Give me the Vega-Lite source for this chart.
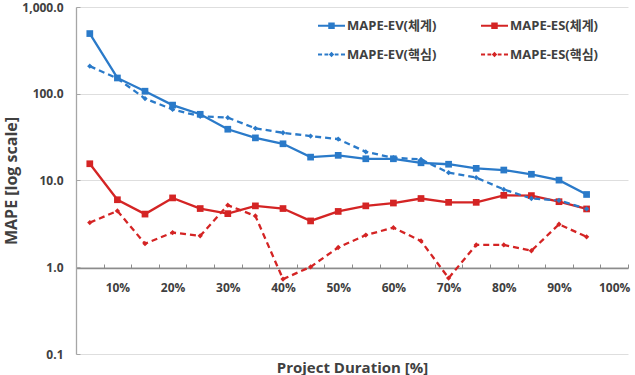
{
  "$schema": "https://vega.github.io/schema/vega-lite/v6.json",
  "width": 552,
  "height": 347,
  "autosize": {"type": "none"},
  "padding": {"left": 76, "top": 7, "right": 7, "bottom": 21},
  "background": "white",
  "config": {
    "view": {"stroke": null},
    "font": "Open Sans, Noto Sans CJK KR",
    "axis": {"labelFont": "Open Sans, Noto Sans CJK KR", "titleFont": "Open Sans, Noto Sans CJK KR"},
    "legend": {"labelFont": "Open Sans, Noto Sans CJK KR"}
  },
  "data": {
    "values": [
      {"d": 5, "s": "MAPE-EV(체계)", "v": 494}, {"d": 10, "s": "MAPE-EV(체계)", "v": 152}, {"d": 15, "s": "MAPE-EV(체계)", "v": 107}, {"d": 20, "s": "MAPE-EV(체계)", "v": 74}, {"d": 25, "s": "MAPE-EV(체계)", "v": 58}, {"d": 30, "s": "MAPE-EV(체계)", "v": 39}, {"d": 35, "s": "MAPE-EV(체계)", "v": 31}, {"d": 40, "s": "MAPE-EV(체계)", "v": 26.5}, {"d": 45, "s": "MAPE-EV(체계)", "v": 18.6}, {"d": 50, "s": "MAPE-EV(체계)", "v": 19.5}, {"d": 55, "s": "MAPE-EV(체계)", "v": 17.8}, {"d": 60, "s": "MAPE-EV(체계)", "v": 17.8}, {"d": 65, "s": "MAPE-EV(체계)", "v": 16.0}, {"d": 70, "s": "MAPE-EV(체계)", "v": 15.4}, {"d": 75, "s": "MAPE-EV(체계)", "v": 13.8}, {"d": 80, "s": "MAPE-EV(체계)", "v": 13.2}, {"d": 85, "s": "MAPE-EV(체계)", "v": 11.8}, {"d": 90, "s": "MAPE-EV(체계)", "v": 10.1}, {"d": 95, "s": "MAPE-EV(체계)", "v": 6.9},
      {"d": 5, "s": "MAPE-ES(체계)", "v": 15.6}, {"d": 10, "s": "MAPE-ES(체계)", "v": 6.0}, {"d": 15, "s": "MAPE-ES(체계)", "v": 4.1}, {"d": 20, "s": "MAPE-ES(체계)", "v": 6.3}, {"d": 25, "s": "MAPE-ES(체계)", "v": 4.75}, {"d": 30, "s": "MAPE-ES(체계)", "v": 4.15}, {"d": 35, "s": "MAPE-ES(체계)", "v": 5.1}, {"d": 40, "s": "MAPE-ES(체계)", "v": 4.75}, {"d": 45, "s": "MAPE-ES(체계)", "v": 3.42}, {"d": 50, "s": "MAPE-ES(체계)", "v": 4.4}, {"d": 55, "s": "MAPE-ES(체계)", "v": 5.1}, {"d": 60, "s": "MAPE-ES(체계)", "v": 5.5}, {"d": 65, "s": "MAPE-ES(체계)", "v": 6.2}, {"d": 70, "s": "MAPE-ES(체계)", "v": 5.6}, {"d": 75, "s": "MAPE-ES(체계)", "v": 5.6}, {"d": 80, "s": "MAPE-ES(체계)", "v": 6.75}, {"d": 85, "s": "MAPE-ES(체계)", "v": 6.7}, {"d": 90, "s": "MAPE-ES(체계)", "v": 5.7}, {"d": 95, "s": "MAPE-ES(체계)", "v": 4.7},
      {"d": 5, "s": "MAPE-EV(핵심)", "v": 208}, {"d": 10, "s": "MAPE-EV(핵심)", "v": 150}, {"d": 15, "s": "MAPE-EV(핵심)", "v": 88}, {"d": 20, "s": "MAPE-EV(핵심)", "v": 66}, {"d": 25, "s": "MAPE-EV(핵심)", "v": 55}, {"d": 30, "s": "MAPE-EV(핵심)", "v": 53}, {"d": 35, "s": "MAPE-EV(핵심)", "v": 40}, {"d": 40, "s": "MAPE-EV(핵심)", "v": 35.5}, {"d": 45, "s": "MAPE-EV(핵심)", "v": 32.5}, {"d": 50, "s": "MAPE-EV(핵심)", "v": 30}, {"d": 55, "s": "MAPE-EV(핵심)", "v": 21.4}, {"d": 60, "s": "MAPE-EV(핵심)", "v": 18.3}, {"d": 65, "s": "MAPE-EV(핵심)", "v": 17.5}, {"d": 70, "s": "MAPE-EV(핵심)", "v": 12.3}, {"d": 75, "s": "MAPE-EV(핵심)", "v": 10.8}, {"d": 80, "s": "MAPE-EV(핵심)", "v": 7.9}, {"d": 85, "s": "MAPE-EV(핵심)", "v": 6.2}, {"d": 90, "s": "MAPE-EV(핵심)", "v": 5.9}, {"d": 95, "s": "MAPE-EV(핵심)", "v": 4.7},
      {"d": 5, "s": "MAPE-ES(핵심)", "v": 3.27}, {"d": 10, "s": "MAPE-ES(핵심)", "v": 4.46}, {"d": 15, "s": "MAPE-ES(핵심)", "v": 1.87}, {"d": 20, "s": "MAPE-ES(핵심)", "v": 2.51}, {"d": 25, "s": "MAPE-ES(핵심)", "v": 2.3}, {"d": 30, "s": "MAPE-ES(핵심)", "v": 5.19}, {"d": 35, "s": "MAPE-ES(핵심)", "v": 3.9}, {"d": 40, "s": "MAPE-ES(핵심)", "v": 0.73}, {"d": 45, "s": "MAPE-ES(핵심)", "v": 1.01}, {"d": 50, "s": "MAPE-ES(핵심)", "v": 1.69}, {"d": 55, "s": "MAPE-ES(핵심)", "v": 2.35}, {"d": 60, "s": "MAPE-ES(핵심)", "v": 2.86}, {"d": 65, "s": "MAPE-ES(핵심)", "v": 2.01}, {"d": 70, "s": "MAPE-ES(핵심)", "v": 0.75}, {"d": 75, "s": "MAPE-ES(핵심)", "v": 1.81}, {"d": 80, "s": "MAPE-ES(핵심)", "v": 1.81}, {"d": 85, "s": "MAPE-ES(핵심)", "v": 1.55}, {"d": 90, "s": "MAPE-ES(핵심)", "v": 3.13}, {"d": 95, "s": "MAPE-ES(핵심)", "v": 2.24}
    ]
  },
  "encoding": {
    "x": {
      "field": "d", "type": "quantitative",
      "scale": {"domain": [2.5, 102.5], "nice": false, "zero": false},
      "axis": {
        "values": [2.5, 7.5, 12.5, 17.5, 22.5, 27.5, 32.5, 37.5, 42.5, 47.5, 52.5, 57.5, 62.5, 67.5, 72.5, 77.5, 82.5, 87.5, 92.5, 97.5, 102.5],
        "labelExpr": "(datum.value - 7.5) % 10 == 0 ? (datum.value + 2.5) + '%' : ''",
        "labelOffset": 13.8,
        "labelFlush": false,
        "labelBound": false,
        "labelOverlap": false,
        "offset": -86,
        "grid": false,
        "domainColor": "#8c8c8c",
        "domainWidth": 1.3,
        "tickColor": "#8c8c8c",
        "tickSize": -4,
        "labelPadding": 18,
        "labelFontSize": 12,
        "labelFontWeight": "bold",
        "labelColor": "#404040",
        "title": "Project Duration [%]",
        "titleFontSize": 15,
        "titleFontWeight": "bold",
        "titleColor": "#404040",
        "titleY": 99,
        "titleBaseline": "middle"
      }
    },
    "y": {
      "field": "v", "type": "quantitative",
      "scale": {"type": "log", "domain": [0.1, 1000], "nice": false},
      "axis": {
        "values": [0.1, 1, 10, 100, 1000],
        "format": ",.1f",
        "grid": true,
        "gridColor": "#dedede",
        "domainColor": "#a6a6a6",
        "domainWidth": 1.3,
        "tickColor": "#a6a6a6",
        "tickSize": -4,
        "labelPadding": 17,
        "labelFontSize": 12,
        "labelFontWeight": "bold",
        "labelColor": "#404040",
        "title": "MAPE [log scale]",
        "titleFontSize": 16,
        "titleFontWeight": "bold",
        "titleColor": "#404040",
        "titleX": -65,
        "titleBaseline": "middle"
      }
    },
    "color": {
      "field": "s", "type": "nominal",
      "scale": {
        "domain": ["MAPE-EV(체계)", "MAPE-EV(핵심)", "MAPE-ES(체계)", "MAPE-ES(핵심)"],
        "range": ["#2a7ac9", "#2a7ac9", "#d42424", "#d42424"]
      },
      "legend": {
        "orient": "none",
        "legendX": 242,
        "legendY": 5,
        "columns": 2,
        "columnPadding": 44,
        "rowPadding": 8,
        "title": null,
        "symbolSize": 729,
        "labelOffset": 2,
        "labelFontSize": 13,
        "labelFontWeight": "bold",
        "labelColor": "#404040",
        "encode": {
          "symbols": {
            "update": {
              "shape": {"signal": "indexof(datum.value, '체계') >= 0 ? 'M-1,-0.075H1V0.075H-1Z M-0.24,-0.24H0.24V0.24H-0.24Z' : 'M-1,-0.07H-0.7V0.07H-1Z M-0.52,-0.07H-0.24V0.07H-0.52Z M0,-0.2L0.2,0L0,0.2L-0.2,0Z M0.24,-0.07H0.52V0.07H0.24Z M0.7,-0.07H1V0.07H0.7Z'"},
              "fill": {"signal": "scale('color', datum.value)"},
              "stroke": {"value": "transparent"},
              "strokeWidth": {"value": 0},
              "opacity": {"value": 1}
            }
          }
        }
      }
    }
  },
  "layer": [
    {
      "transform": [{"filter": "indexof(datum.s, '체계') >= 0"}],
      "mark": {"type": "line", "strokeWidth": 2.3}
    },
    {
      "transform": [{"filter": "indexof(datum.s, '핵심') >= 0"}],
      "mark": {"type": "line", "strokeWidth": 2.3, "strokeDash": [6, 4]}
    },
    {
      "transform": [{"filter": "indexof(datum.s, '체계') >= 0"}],
      "mark": {"type": "point", "filled": true, "opacity": 1, "shape": "square", "size": 45}
    },
    {
      "transform": [{"filter": "indexof(datum.s, '핵심') >= 0"}],
      "mark": {"type": "point", "filled": true, "opacity": 1, "shape": "diamond", "size": 28}
    }
  ]
}
